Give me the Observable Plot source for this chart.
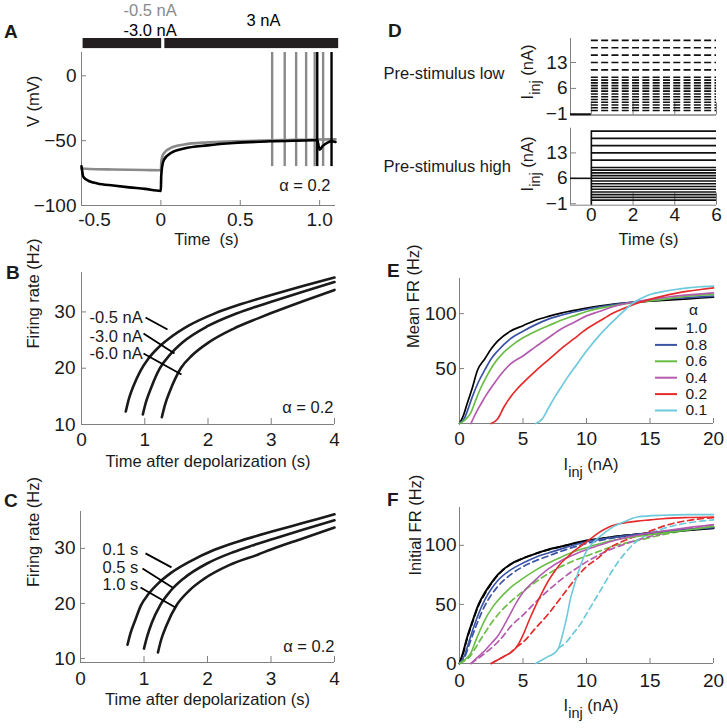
<!DOCTYPE html>
<html><head><meta charset="utf-8">
<script src="https://cdn.jsdelivr.net/npm/d3@7"></script>
<script src="https://cdn.jsdelivr.net/npm/@observablehq/plot@0.6"></script>
<style>
body{margin:0;background:#fff;}
#fig{position:relative;width:727px;height:728px;overflow:hidden;font-family:"Liberation Sans",Arial,Helvetica,sans-serif;color:#1a1a1a;}
#fig svg{position:absolute;overflow:visible;}
.letter{position:absolute;font-weight:bold;font-size:19px;line-height:19px;}
</style></head><body><div id="fig"></div>
<script>
// ---------------- DATA ----------------
// Panel A: membrane potential traces (time s, V mV)
const grayT = [-0.5,-0.45,-0.3,-0.1,-0.005,0,0.003,0.01,0.02,0.063,0.147,0.294,0.46,0.69,0.8,0.9,1.0,1.1];
const grayV = [-71.5,-71.8,-72.2,-72.6,-72.8,-72.8,-66,-62,-59.5,-55.6,-53,-51.3,-50.5,-49.7,-49.5,-49.3,-49.1,-49];
const blackT = [-0.5,-0.495,-0.49,-0.47,-0.45,-0.4,-0.3,-0.2,-0.1,-0.002,0,0.002,0.008,0.02,0.063,0.147,0.294,0.46,0.69,0.96,0.985,1.0,1.02,1.05,1.075,1.1];
const blackV = [-69.7,-74,-77.4,-80,-81.3,-83,-84.6,-86,-87.2,-88.7,-88.7,-78,-70,-64.6,-59.5,-56,-53.6,-51.8,-50.5,-49.7,-49.6,-57,-54,-51.5,-50.5,-51];
const graySpikes = [0.701,0.780,0.852,0.915,0.969,1.022];
const blackSpikes = [0.985,1.075];
const spikePeak = 18, spikeTrough = -70;
const stimStart = [-0.49, 0.025];
const stimEnd = [0.005, 1.12];
const aTicks = [-0.5,0,0.5,1.0];
const aTickLabels = ["-0.5","0","0.5","1.0"];

// Panel B: firing rate vs time after depolarization, by pre-stimulus current
const bT1=[0.70,0.75,0.82,0.93,1.05,1.2,1.4,1.7,2.1,2.5,3.0,3.5,4.0];
const bF1=[12.3,14.6,16.8,19.5,21.6,23.5,25.4,27.6,29.7,31.3,33.0,34.6,36.1];
const bT2=[0.97,1.02,1.1,1.24,1.4,1.6,2.0,2.4,2.7,3.0,3.5,4.0];
const bF2=[11.8,14.0,16.5,20.0,22.4,24.6,27.5,29.5,30.7,31.8,33.6,35.3];
const bT3=[1.27,1.32,1.4,1.57,1.75,2.0,2.4,2.8,3.0,3.5,4.0];
const bF3=[11.3,13.5,16.0,20.0,22.3,24.5,27.0,28.9,29.8,31.9,33.9];
const bLabels = ["-0.5 nA","-3.0 nA","-6.0 nA"];

// Panel C: by pre-stimulus duration
const cT1=[0.74,0.79,0.86,0.95,1.07,1.22,1.42,1.72,2.1,2.5,3.0,3.5,4.0];
const cF1=[12.5,14.7,16.9,19.6,21.7,23.6,25.5,27.6,29.7,31.3,33.0,34.6,36.2];
const cT2=[1.0,1.05,1.12,1.26,1.42,1.62,2.0,2.4,2.7,3.0,3.5,4.0];
const cF2=[11.8,14.0,16.4,19.8,22.3,24.5,27.3,29.3,30.5,31.6,33.4,35.1];
const cT3=[1.22,1.27,1.35,1.52,1.7,1.95,2.35,2.8,3.0,3.5,4.0];
const cF3=[11.1,13.4,15.9,19.8,22.2,24.5,27.0,28.9,29.8,31.8,33.8];
const cLabels = ["0.1 s","0.5 s","1.0 s"];

// Panel D: stimulus protocol levels (nA)
const stepLevels = [0,0.75,1.5,2.25,3,3.75,4.5,5.25,6,6.75,7.5,8.25,9,11,13,15,17,19];
const preLow = -1, preHigh = 6, stimOnset = 0, stimOffset = 6;

// Panel E: mean FR vs I_inj  [I (nA), FR (Hz)]
const alphaLabels = ["1.0","0.8","0.6","0.4","0.2","0.1"];
const alphaColors = ["#000000","#3a53a4","#6abd45","#b45ab0","#e52b2b","#6dc9dc"];
const meanFR10 = [[0,0],[0.3,7],[0.6,18],[1,32],[1.4,48],[2,59],[2.5,68],[3,75],[4,84],[5,89],[6,94],[7,97.5],[8,100.5],[10,105],[12,108.5],[14,110.5],[16,112],[18,113.5],[20,115]];
const meanFR08 = [[0,0],[0.4,5],[0.7,14],[1,24],[1.5,38],[2,49],[2.5,59],[3,66],[4,77],[5,84],[6,90],[7,95],[8,98.5],[10,104],[12,108],[14,111],[16,113],[18,114.5],[20,116]];
const meanFR06 = [[0,0],[0.5,4],[0.9,10],[1.3,22],[1.7,33],[2,40],[2.7,54],[3.5,65],[4,70],[5,78],[6,84],[7,89],[8,94],[9,98],[10,102],[12,107],[14,110.5],[16,113],[18,116],[20,117.5]];
const meanFR04 = [[0.9,0],[1.1,5],[1.4,12],[1.7,18],[2,24],[2.7,36],[3.5,48],[4,54],[5,61.5],[6,70],[7,78],[8,86],[9,92],[10,98],[11,102],[12,106],[13,109],[14,111],[15,113],[17,116],[20,119]];
const meanFR02 = [[2.5,0],[3,4],[3.5,15],[4,24],[4.5,31],[5,37],[6,48],[7,58],[8,68],[9,77],[10,86],[11,93],[12,100],[13,105],[14,109.5],[15,113],[16,116],[17,118.5],[18,120.5],[19,122],[20,123.5]];
const meanFR01 = [[6,0],[6.5,4],[7,14],[7.5,24],[8,33],[8.5,42],[9,50],[10,66],[11,80],[12,92],[13,103],[13.7,110],[14.5,115],[15,117.5],[16,120],[17,122],[18,123.5],[19,124.5],[20,125]];

// Panel F: initial FR vs I_inj, solid = pre-stimulus low, dashed = pre-stimulus high
const initLow10 = [[0,0],[0.3,10],[0.6,22],[1,35],[1.5,50],[2,60],[2.5,68],[3,75],[4,84],[5,89],[6,93],[7,96.5],[8,99],[10,104],[12,107],[15,110],[17,112],[20,114.5]];
const initHigh10 = [[0,0],[0.3,9],[0.6,21],[1,34],[1.5,49],[2,59],[2.5,67.5],[3,74.5],[4,83.5],[5,89],[6,93],[8,99],[10,103.5],[12,107],[15,110.5],[20,115]];
const initLow08 = [[0,0],[0.4,7],[0.7,17],[1,27],[1.5,42],[2,54],[2.5,63],[3,70],[4,79],[5,85],[6,90],[7,93.5],[8,97],[10,103],[12,106.5],[15,110.5],[20,115]];
const initHigh08 = [[0,0],[0.4,5],[0.7,14],[1,23],[1.5,37],[2,49],[2.5,58],[3,65],[4,75],[5,82],[6,87],[7,91],[8,95],[10,101.5],[12,106],[15,110],[20,114.5]];
const initLow06 = [[0,0],[0.5,4],[0.9,9],[1.3,20],[1.7,30],[2,37],[2.5,46],[3,53],[4,64],[5,72],[6,79],[7,85],[8,90],[9,94.5],[10,98],[12,104],[15,109],[18,113],[20,116]];
const initHigh06 = [[0,0],[0.5,3],[0.9,7],[1.3,14],[1.7,21],[2,26],[2.5,34],[3,41],[4,52],[5,61],[6,69],[7,76],[8,82],[9,87],[10,91],[11,95],[12,99],[14,104],[16,109],[18,113],[20,116]];
const initLow04 = [[0.9,0],[1.2,3],[1.6,7],[2,11],[2.5,17],[3,23],[3.5,32],[4,42],[4.5,52],[5,60],[5.5,66],[6,71],[7,80],[8,87],[9,92],[10,96.5],[11,100],[12,103.5],[14,108.5],[16,112],[18,115],[20,117.5]];
const initHigh04 = [[0.9,0],[1.3,3],[1.8,7],[2.5,13],[3,18],[3.5,24],[4,31],[5,41],[6,52],[7,62],[8,71],[9,79],[10,86],[11,92],[12,97],[13,101],[14,104.5],[15,107.5],[16,110],[18,114],[20,117]];
const initLow02 = [[2.5,0],[3,3],[3.5,6],[4,9],[4.5,14],[5,24],[5.5,37],[6,49],[6.5,60],[7,70],[7.5,78],[8,85],[8.5,90],[9,95],[9.5,99],[10,103],[10.5,107],[11,111],[11.5,114],[12,116.5],[13,119],[14,120.5],[15,121.5],[16,122.5],[18,123.5],[20,124]];
const initHigh02 = [[2.5,0],[3,3],[3.5,6],[4,9],[4.5,14],[5,18],[6,30],[7,42],[8,56],[8.5,63],[9,70],[10,82],[11,90],[11.6,96],[12,99],[13,104],[13.7,107],[15,112],[16,116],[17,119],[18,121],[19,122.5],[20,123.5]];
const initLow01 = [[6,0],[6.5,3],[7,6],[7.5,9],[7.8,13],[8.2,28],[8.5,42],[8.7,53],[9,65],[9.5,82],[10,95],[10.5,102],[11,107],[12,115],[13,120],[14,124],[16,125.5],[18,126],[20,126]];
const initHigh01 = [[7.8,13],[8.4,18],[9,26],[9.5,33],[10,42],[10.5,51],[11,60],[11.6,71],[12,78],[12.5,86],[13,93],[13.5,99],[14,104],[14.8,109],[16,114],[17,117],[18,119],[19,120.5],[20,121.5]];

// ---------------- DRAWING ----------------
const FF = '"Liberation Sans", Arial, Helvetica, sans-serif';
const TICK = 19, LAB = 16.5, LEG = 14.5, LEGSTEP = 16.4;
const AX = "#808080", TXT = "#1a1a1a", GRAY = "#8a8a8a";
const baseStyle = {background: "transparent", overflow: "visible", fontFamily: FF, fontSize: TICK + "px", color: TXT};
const fig = document.getElementById("fig");
const minus = d => d < 0 ? "\u2212" + (-d) : String(d);
const pairs = (xs, ys) => xs.map((x, i) => [x, ys[i]]);

function yAx(ticks, fmt, size = 5, pad = 4) {
  return Plot.axisY(ticks, {anchor: "left", tickSize: -size, tickPadding: pad + size, stroke: AX, fill: TXT, fontSize: TICK, tickFormat: fmt, label: null});
}
function xAx(ticks, fmt, size = 5, pad = 8, show = true, extra = {}) {
  return Plot.axisX(ticks, {anchor: "bottom", tickSize: -size, tickPadding: pad + size, stroke: AX, fill: show ? TXT : "none", fontSize: TICK, tickFormat: fmt, label: null, ...extra});
}
function note(str, opts) {
  return Plot.text([str], {text: d => d, lineAnchor: "middle", fontSize: LAB, fill: TXT, ...opts});
}
function put(svg, left, top) {
  svg.style.position = "absolute"; svg.style.left = left + "px"; svg.style.top = top + "px";
  fig.appendChild(svg); return svg;
}
function letter(ch, x, baseline) {
  const d = document.createElement("div"); d.className = "letter"; d.textContent = ch;
  d.style.left = x + "px"; d.style.top = (baseline - 16.1) + "px"; fig.appendChild(d);
}
function iinj(svg, x, y, rot) {
  const t = d3.select(svg).append("text")
    .attr("transform", `translate(${x},${y}) rotate(${rot})`)
    .attr("text-anchor", "middle").attr("font-size", LAB).attr("fill", TXT)
    .attr("font-family", FF);
  t.append("tspan").text("I");
  t.append("tspan").attr("dy", 7).attr("font-size", 14.5).text("inj");
  t.append("tspan").attr("dy", -7).text(" (nA)");
}
const line = (data, stroke, w, extra = {}) => Plot.line(data, {x: d => d[0], y: d => d[1], stroke, strokeWidth: w, curve: "monotone-x", ...extra});
const aFmt = d => aTickLabels[aTicks.indexOf(d)];

// ---- Panel A ----
const plotA = Plot.plot({
  width: 360, height: 250, marginLeft: 81, marginRight: 25, marginTop: 52, marginBottom: 45,
  style: baseStyle,
  x: {domain: [-0.5, 1.1], axis: null},
  y: {domain: [-100, 18], axis: null},
  marks: [
    Plot.ruleX([-0.5], {stroke: AX}),
    Plot.ruleY([-100], {stroke: AX}),
    yAx([0, -50, -100], minus, 5, 5),
    // ticks at all positions, labels for non-negative ones
    xAx(aTicks, d => d < 0 ? "" : aFmt(d), 5, 7),
    // the "-0.5" label sits a little to the right of its tick, as in the figure
    xAx(aTicks.filter(d => d < 0), aFmt, 5, 7, true, {dx: 13, stroke: "none"}),
    Plot.rect(stimStart.map((s, i) => ({s, e: stimEnd[i]})), {x1: "s", x2: "e", y1: 21, y2: 28.8, fill: "#231f20"}),
    Plot.ruleX(graySpikes, {x: d => d, y1: spikeTrough, y2: spikePeak, stroke: GRAY, strokeWidth: 2.4}),
    line(pairs(grayT, grayV), GRAY, 2.6),
    line(pairs(blackT, blackV), "#000", 2.6),
    Plot.ruleX(blackSpikes, {x: d => d, y1: spikeTrough, y2: spikePeak, stroke: "#000", strokeWidth: 2.4}),
    note("-0.5 nA", {frameAnchor: "top-left", dx: 42, dy: -42, fill: GRAY}),
    note("-3.0 nA", {frameAnchor: "top-left", dx: 42, dy: -22, fill: "#000"}),
    note("3 nA", {frameAnchor: "top-left", dx: 165, dy: -32, fill: "#000"}),
    note("V (mV)", {frameAnchor: "left", rotate: -90, dx: -47.5, dy: -2}),
    note("Time  (s)", {frameAnchor: "bottom", dy: 34, dx: -2}),
    note("\u03b1 = 0.2", {frameAnchor: "bottom-right", textAnchor: "end", dx: -5, dy: -20})
  ]
});
put(plotA, 0, 0);

// ---- Panel B ----
const bx = px => (px - 81) / 253 * 4, by = py => 10 + (424 - py) / 152 * 27;
const plotB = Plot.plot({
  width: 360, height: 230, marginLeft: 81, marginRight: 26, marginTop: 22, marginBottom: 56,
  style: baseStyle,
  x: {domain: [0, 4], axis: null},
  y: {domain: [10, 37], axis: null},
  marks: [
    Plot.ruleX([0], {stroke: AX}),
    Plot.ruleY([10], {stroke: AX}),
    yAx([10, 20, 30], String, 5, 6),
    xAx([0, 1, 2, 3, 4], String, 6, 8),
    line(pairs(bT1, bF1), "#1a1a1a", 2.6),
    line(pairs(bT2, bF2), "#1a1a1a", 2.6),
    line(pairs(bT3, bF3), "#1a1a1a", 2.6),
    Plot.link([[145,317,167,329],[143,333,174,353],[143,353,181,374]], {x1: d => bx(d[0]), y1: d => by(d[1]), x2: d => bx(d[2]), y2: d => by(d[3]), stroke: "#000", strokeWidth: 1.8}),
    Plot.text(bLabels, {text: d => d, x: bx(89), y: (d, i) => by([317, 336, 353][i]), textAnchor: "start", lineAnchor: "middle", fontSize: LAB, fill: TXT}),
    note("Firing rate (Hz)", {frameAnchor: "left", rotate: -90, dx: -48}),
    note("Time after depolarization (s)", {frameAnchor: "bottom", dy: 37}),
    note("\u03b1 = 0.2", {frameAnchor: "bottom-right", textAnchor: "end", dx: -1, dy: -17})
  ]
});
put(plotB, 0, 250);

// ---- Panel C ----
const cx = px => (px - 80) / 254 * 4, cy = py => 30 - (py - 548) / 5.5;
const plotC = Plot.plot({
  width: 360, height: 248, marginLeft: 80, marginRight: 26, marginTop: 31, marginBottom: 66,
  style: baseStyle,
  x: {domain: [0, 4], axis: null},
  y: {domain: [9.27, 36.7], axis: null},
  marks: [
    Plot.ruleX([0], {stroke: AX}),
    Plot.ruleY([9.27], {stroke: AX}),
    yAx([10, 20, 30], String, 5, 5),
    xAx([0, 1, 2, 3, 4], String, 6, 9),
    line(pairs(cT1, cF1), "#1a1a1a", 2.6),
    line(pairs(cT2, cF2), "#1a1a1a", 2.6),
    line(pairs(cT3, cF3), "#1a1a1a", 2.6),
    Plot.link([[145,553,171,567],[142,568,172,587],[140,587,175,607]], {x1: d => cx(d[0]), y1: d => cy(d[1]), x2: d => cx(d[2]), y2: d => cy(d[3]), stroke: "#000", strokeWidth: 1.8}),
    Plot.text(cLabels, {text: d => d, x: cx(102), y: (d, i) => cy([549, 567, 584][i]), textAnchor: "start", lineAnchor: "middle", fontSize: LAB, fill: TXT}),
    note("Firing rate (Hz)", {frameAnchor: "left", rotate: -90, dx: -47}),
    note("Time after depolarization (s)", {frameAnchor: "bottom", dy: 37}),
    note("\u03b1 = 0.2", {frameAnchor: "bottom-right", textAnchor: "end", dx: 0, dy: -16})
  ]
});
put(plotC, 0, 480);

// ---- Panel D (top: pre-stimulus low) ----
const plotD1 = Plot.plot({
  width: 367, height: 120, marginLeft: 210, marginRight: 11, marginTop: 38, marginBottom: 5.5,
  style: baseStyle,
  x: {domain: [-1, 6], axis: null},
  y: {domain: [-1.2, 19.5], axis: null},
  marks: [
    Plot.ruleX([-1], {stroke: AX}),
    Plot.ruleY([-1.2], {stroke: AX, strokeWidth: 1.5}),
    yAx([13, 6, -1], minus, 6, 3),
    xAx([0, 2, 4, 6], String, 12, 3, false),
    Plot.ruleY([preLow], {x1: -1, x2: stimOnset, stroke: "#111", strokeWidth: 2}),
    Plot.ruleY(stepLevels, {y: d => d, x1: stimOnset, x2: stimOffset, stroke: "#111", strokeWidth: 1.6, strokeDasharray: "7,3.3"}),
    note("Pre-stimulus low", {frameAnchor: "left", textAnchor: "start", dx: -187, dy: -3})
  ]
});
put(plotD1, 360, 0);
iinj(plotD1, 173, 72, -90);

// ---- Panel D (bottom: pre-stimulus high) ----
const plotD2 = Plot.plot({
  width: 367, height: 130, marginLeft: 210, marginRight: 11, marginTop: 7.7, marginBottom: 45.3,
  style: baseStyle,
  x: {domain: [-1, 6], axis: null},
  y: {domain: [-1.4, 19.8], axis: null},
  marks: [
    Plot.ruleX([-1], {stroke: AX}),
    Plot.ruleY([-1.4], {stroke: AX}),
    yAx([13, 6, -1], minus, 6, 3),
    xAx([0, 2, 4, 6], String, 12, 2.5),
    Plot.ruleY([preHigh], {x1: -1, x2: stimOnset, stroke: "#111", strokeWidth: 1.6}),
    Plot.ruleX([stimOnset], {y1: -1.4, y2: d3.max(stepLevels), stroke: "#111", strokeWidth: 1.6}),
    Plot.ruleY(stepLevels, {y: d => d, x1: stimOnset, x2: stimOffset, stroke: "#111", strokeWidth: 1.6}),
    note("Pre-stimulus high", {frameAnchor: "left", textAnchor: "start", dx: -187, dy: 0}),
    note("Time (s)", {frameAnchor: "bottom", dy: 35, dx: 5})
  ]
});
put(plotD2, 360, 120);
iinj(plotD2, 173, 44, -90);

// ---- Panel E ----
const ex = px => (px - 459) / 254 * 20, ey = py => (423 - py) / 145 * 132;
const meanSeries = [meanFR10, meanFR08, meanFR06, meanFR04, meanFR02, meanFR01];
const plotE = Plot.plot({
  width: 367, height: 222, marginLeft: 99, marginRight: 14, marginTop: 28, marginBottom: 49,
  style: baseStyle,
  x: {domain: [0, 20], axis: null},
  y: {domain: [0, 132], axis: null},
  marks: [
    Plot.ruleX([0], {stroke: AX}),
    Plot.ruleY([0], {stroke: AX}),
    yAx([50, 100], String, 5, 3),
    xAx([0, 5, 10, 15, 20], String, 5, 8),
    meanSeries.map((s, i) => line(s, alphaColors[i], 1.7)),
    alphaLabels.map((lab, i) => Plot.ruleY([ey(328 + LEGSTEP * i)], {x1: ex(655), x2: ex(677), stroke: alphaColors[i], strokeWidth: 2})),
    Plot.text(alphaLabels, {text: d => d, x: ex(685), y: (d, i) => ey(328 + LEGSTEP * i), textAnchor: "start", lineAnchor: "middle", fontSize: LEG + 1, fill: TXT}),
    Plot.text(["\u03b1"], {text: d => d, x: ex(693), y: ey(310), lineAnchor: "middle", fontSize: LEG + 1, fill: TXT}),
    note("Mean FR (Hz)", {frameAnchor: "left", rotate: -90, dx: -46, dy: -3})
  ]
});
put(plotE, 360, 250);
iinj(plotE, 231, 220, 0);

// ---- Panel F ----
const lowSeries = [initLow10, initLow08, initLow06, initLow04, initLow02, initLow01];
const highSeries = [initHigh10, initHigh08, initHigh06, initHigh04, initHigh02, initHigh01];
const plotF = Plot.plot({
  width: 367, height: 256, marginLeft: 99, marginRight: 14, marginTop: 35, marginBottom: 65,
  style: baseStyle,
  x: {domain: [0, 20], axis: null},
  y: {domain: [0, 132], axis: null},
  marks: [
    Plot.ruleX([0], {stroke: AX}),
    Plot.ruleY([0], {stroke: AX}),
    yAx([0, 50, 100], String, 5, 3),
    xAx([0, 5, 10, 15, 20], String, 5, 10),
    highSeries.map((s, i) => line(s, alphaColors[i], 1.7, {strokeDasharray: "6,4"})),
    lowSeries.map((s, i) => line(s, alphaColors[i], i === 0 ? 2 : 1.6)),
    note("Initial FR (Hz)", {frameAnchor: "left", rotate: -90, dx: -44, dy: -10})
  ]
});
put(plotF, 360, 472);
iinj(plotF, 231, 239, 0);

// panel letters
letter("A", 4, 38); letter("B", 6, 279); letter("C", 4, 507);
letter("D", 388, 37); letter("E", 387, 277); letter("F", 387, 506);
</script></body></html>
